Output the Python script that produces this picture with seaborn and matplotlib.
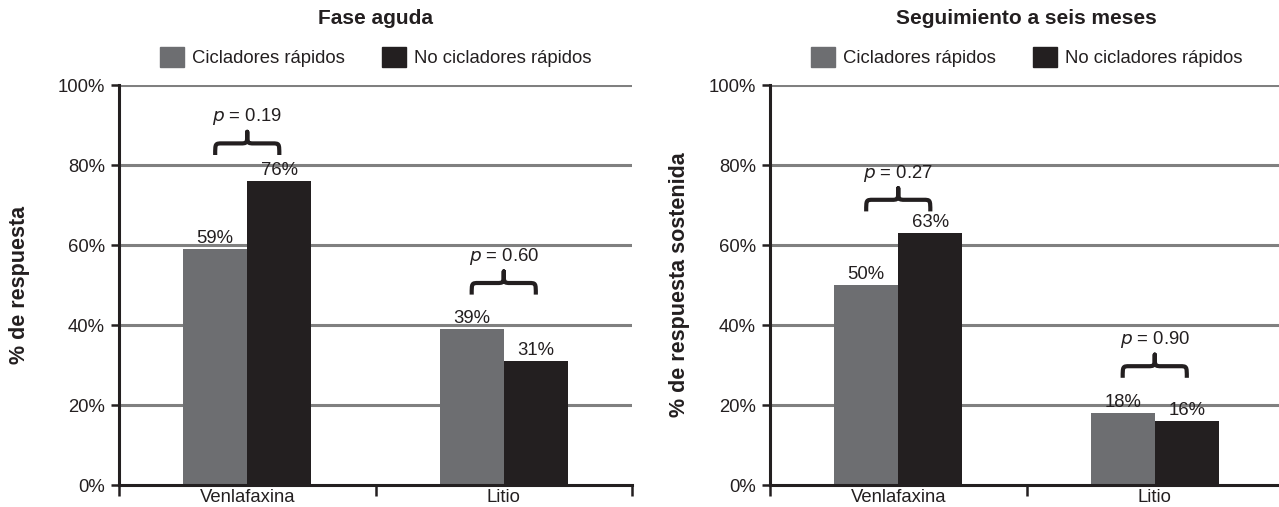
import matplotlib
matplotlib.use("Agg")
import matplotlib.pyplot as plt
import seaborn as sns
import pandas as pd
import numpy as np
from matplotlib.path import Path
from matplotlib.patches import PathPatch

# ---- data ----
tratamientos = ["Venlafaxina", "Litio"]
grupos = ["Cicladores rápidos", "No cicladores rápidos"]
aguda_rapidos = [59, 39]
aguda_no_rapidos = [76, 31]
seis_rapidos = [50, 18]
seis_no_rapidos = [63, 16]
aguda_p = ["0.19", "0.60"]
seis_p = ["0.27", "0.90"]
titulos = ["Fase aguda", "Seguimiento a seis meses"]
ylabels = ["% de respuesta", "% de respuesta sostenida"]
yticks = [0, 20, 40, 60, 80, 100]
ytick_labels = ["0%", "20%", "40%", "60%", "80%", "100%"]
# vertical position (in %) of the brace ends
aguda_brace_y = [82.5, 47.6]
seis_brace_y = [68.4, 26.8]

colors = ["#6d6e71", "#231f20"]

sns.set_theme(style="white")
plt.rcParams['font.family'] = ['Liberation Sans', 'DejaVu Sans']

FS = 13.3

fig = plt.figure(figsize=(12.79, 5.07), dpi=100)

W, H = 1279, 507
axes_px = [(119, 513), (770, 513)]
bottom_px = 485
top_px = 85
ylabel_x = [-0.1735, -0.156]


def brace(ax, x1, x2, y0, h, lw=3.0):
    xm = (x1 + x2) / 2
    r = (x2 - x1) * 0.11
    verts = [
        (x1, y0), (x1, y0 + h), (x1, y0 + h), (x1 + r, y0 + h),
        (xm - r, y0 + h),
        (xm, y0 + h), (xm, y0 + h), (xm, y0 + 2 * h),
        (xm, y0 + h), (xm, y0 + h), (xm + r, y0 + h),
        (x2 - r, y0 + h),
        (x2, y0 + h), (x2, y0 + h), (x2, y0),
    ]
    codes = [Path.MOVETO, Path.CURVE4, Path.CURVE4, Path.CURVE4,
             Path.LINETO,
             Path.CURVE4, Path.CURVE4, Path.CURVE4,
             Path.CURVE4, Path.CURVE4, Path.CURVE4,
             Path.LINETO,
             Path.CURVE4, Path.CURVE4, Path.CURVE4]
    patch = PathPatch(Path(verts, codes), fill=False, lw=lw,
                      edgecolor="#231f20", capstyle="butt", joinstyle="round")
    ax.add_patch(patch)


panels = [
    (aguda_rapidos, aguda_no_rapidos, aguda_p, aguda_brace_y),
    (seis_rapidos, seis_no_rapidos, seis_p, seis_brace_y),
]

for i, (r_vals, n_vals, pvals, brace_y) in enumerate(panels):
    left, width = axes_px[i]
    ax = fig.add_axes([left / W, (H - bottom_px) / H, width / W,
                       (bottom_px - top_px) / H])
    df = pd.DataFrame({
        "tratamiento": tratamientos * 2,
        "grupo": [grupos[0]] * 2 + [grupos[1]] * 2,
        "valor": r_vals + n_vals,
    })
    sns.barplot(data=df, x="tratamiento", y="valor", hue="grupo",
                hue_order=grupos, order=tratamientos, palette=colors,
                saturation=1, width=0.5, ax=ax, legend=False, zorder=3,
                linewidth=0, edgecolor="none")
    ax.set_xlim(-0.5, 1.5)
    ax.set_ylim(0, 100)
    ax.set_yticks(yticks)
    ax.set_yticklabels(ytick_labels)
    for y in yticks[1:]:
        ax.axhline(y, color="#808080", lw=2.2, zorder=1)
    for s in ["top", "right"]:
        ax.spines[s].set_visible(False)
    for s in ["left", "bottom"]:
        ax.spines[s].set_color("#231f20")
        ax.spines[s].set_linewidth(2.2)
        ax.spines[s].set_zorder(4)
    ax.tick_params(axis="y", which="major", direction="out", length=6,
                   width=1.8, color="#231f20", labelsize=FS, pad=4,
                   labelcolor="#231f20", left=True)
    ax.set_xticks([-0.5, 0.5, 1.5], minor=True)
    ax.tick_params(axis="x", which="minor", direction="out", length=8,
                   width=1.8, color="#231f20", bottom=True)
    ax.tick_params(axis="x", which="major", length=0, labelsize=FS, pad=3,
                   labelcolor="#231f20")
    ax.set_xlabel("")
    ax.set_ylabel(ylabels[i], fontsize=15.5, fontweight="bold",
                  color="#231f20")
    ax.yaxis.set_label_coords(ylabel_x[i], 0.5)

    # bar labels
    for container in ax.containers:
        for bar in container:
            h = bar.get_height()
            ax.annotate(f"{h:.0f}%", (bar.get_x() + bar.get_width() / 2, h),
                        xytext=(0, 1.5), textcoords="offset points",
                        ha="center", va="bottom", fontsize=FS,
                        color="#231f20", zorder=5)

    # braces and p values
    cont_r, cont_n = ax.containers[0], ax.containers[1]
    for j in range(len(tratamientos)):
        b1, b2 = cont_r[j], cont_n[j]
        x1 = b1.get_x() + b1.get_width() / 2
        x2 = b2.get_x() + b2.get_width() / 2
        y0 = brace_y[j]
        brace(ax, x1, x2, y0, 2.9)
        ax.text((x1 + x2) / 2, y0 + 9.6, f"$\\it{{p}}$ = {pvals[j]}",
                ha="center", va="center", fontsize=FS, color="#231f20")

    # title
    ax.text(0.5, 1.167, titulos[i], transform=ax.transAxes, ha="center",
            va="center", fontsize=15, fontweight="bold", color="#231f20")

    # legend
    handles = [plt.Rectangle((0, 0), 1, 1, color=c) for c in colors]
    leg = ax.legend(handles, grupos, loc="center", bbox_to_anchor=(0.5, 1.07),
                    ncol=2, frameon=False, fontsize=FS, handlelength=1.3,
                    handleheight=1.3, handletextpad=0.45, columnspacing=2.0,
                    borderaxespad=0)
    for t in leg.get_texts():
        t.set_color("#231f20")

fig.savefig("out.png", dpi=100)
